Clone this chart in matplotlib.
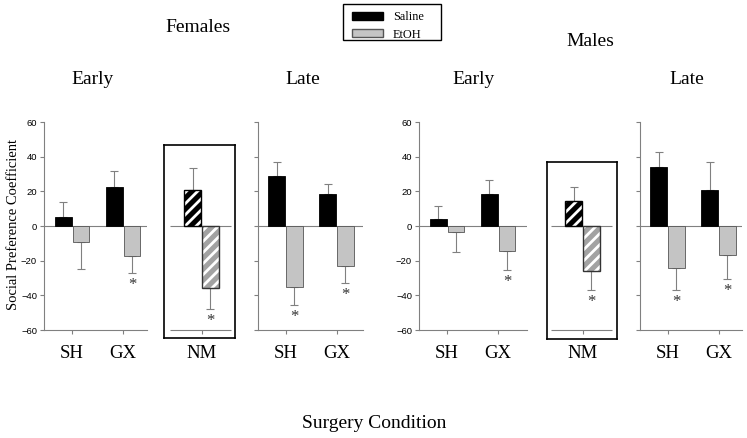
import matplotlib
matplotlib.use("Agg")
import matplotlib.pyplot as plt
from matplotlib.patches import Patch, Rectangle

plt.rcParams['font.family'] = 'Liberation Serif'
plt.rcParams['hatch.linewidth'] = 2.0

# data (mean, error bar length)
groups = ['SH', 'GX']

fem_early_sal = [5, 22.7]
fem_early_sal_err = [9, 9.3]
fem_early_eto = [-9.5, -17.3]
fem_early_eto_err = [15.4, 9.9]
fem_early_star = [False, True]

fem_nm_sal, fem_nm_sal_err = 20.8, 12.5
fem_nm_eto, fem_nm_eto_err = -35.8, 12.0

fem_late_sal = [28.9, 18.3]
fem_late_sal_err = [8.1, 6.0]
fem_late_eto = [-35.1, -23.0]
fem_late_eto_err = [10.6, 10.0]
fem_late_star = [True, True]

male_early_sal = [4, 18.5]
male_early_sal_err = [7.6, 8.1]
male_early_eto = [-3.7, -14.7]
male_early_eto_err = [11.3, 10.6]
male_early_star = [False, True]

male_nm_sal, male_nm_sal_err = 14.2, 8.1
male_nm_eto, male_nm_eto_err = -25.9, 11.0

male_late_sal = [33.9, 20.9]
male_late_sal_err = [9.0, 16.3]
male_late_eto = [-24.5, -16.9]
male_late_eto_err = [12.7, 13.4]
male_late_star = [True, True]

W, H = 747, 438
SAL = 'black'
ETO = '#c4c4c4'
ETO_NM = '#a2a2a2'
GREY = '#808080'
PX = 51.0   # pixels per category unit
BW = 0.33

fig = plt.figure(figsize=(W / 100, H / 100), dpi=100)


def px_axes(left, right, top, bottom):
    return fig.add_axes([left / W, 1 - bottom / H, (right - left) / W, (bottom - top) / H])


def errbars(ax, x, vals, errs):
    for xi, v, e in zip(x, vals, errs):
        yerr = [[0], [e]] if v >= 0 else [[e], [0]]
        ax.errorbar([xi], [v], yerr=yerr, fmt='none', ecolor=GREY, elinewidth=0.8,
                    capsize=3, capthick=0.8, zorder=1)


def stars(ax, x, vals, errs, flags):
    for xi, v, e, f in zip(x, vals, errs, flags):
        if f:
            ax.annotate('*', xy=(xi, v - e), xytext=(0, -12), textcoords='offset pixels',
                        ha='center', va='center', fontsize=12, color='#333333')


def panel(left, right, sal, sal_err, eto, eto_err, flags, labels_on):
    ax = px_axes(left, right, 122, 330)
    xmin = -0.55
    ax.set_xlim(xmin, xmin + (right - left) / PX)
    ax.set_ylim(-60, 60)
    x = list(range(len(groups)))
    xs = [i - 0.175 for i in x]
    xe = [i + 0.175 for i in x]
    ax.bar(xs, sal, BW, color=SAL, edgecolor='black', linewidth=0.6, zorder=2)
    ax.bar(xe, eto, BW, color=ETO, edgecolor='#555555', linewidth=0.6, zorder=2)
    errbars(ax, xs, sal, sal_err)
    errbars(ax, xe, eto, eto_err)
    stars(ax, xe, eto, eto_err, flags)
    ax.axhline(0, color=GREY, lw=0.8, zorder=0.5)
    for s in ['top', 'right']:
        ax.spines[s].set_visible(False)
    for s in ['left', 'bottom']:
        ax.spines[s].set_color(GREY)
        ax.spines[s].set_linewidth(0.8)
    ax.set_yticks(range(-60, 61, 20))
    ax.set_xticks(x)
    ax.set_xticklabels(groups, fontsize=13.5)
    ax.tick_params(axis='both', direction='out', length=3, width=0.8, color=GREY)
    ax.tick_params(axis='x', pad=8)
    ax.tick_params(axis='y', labelsize=6.8, labelleft=labels_on, pad=2)
    for t in ax.get_yticklabels():
        t.set_family('Liberation Sans')
    ax.patch.set_visible(False)
    return ax


def nm_panel(left, right, top, bottom, center, sal, sal_err, eto, eto_err):
    k = 208 / 120.0
    y0 = 226.0
    ax = px_axes(left, right, top, bottom)
    ax.set_xlim((left - center) / PX, (right - center) / PX)
    ax.set_ylim(-(bottom - y0) / k, (y0 - top) / k)
    ax.set_xticks([])
    ax.set_yticks([])
    for s in ax.spines.values():
        s.set_linewidth(1.2)
        s.set_color('black')
    xs, xe = -0.175, 0.175
    ax.bar([xs], [sal], BW, color=SAL, edgecolor='white', hatch='///', linewidth=0, zorder=2)
    ax.bar([xs], [sal], BW, fill=False, edgecolor='black', linewidth=1.0, zorder=2.1)
    ax.bar([xe], [eto], BW, color=ETO_NM, edgecolor='white', hatch='///', linewidth=0, zorder=2)
    ax.bar([xe], [eto], BW, fill=False, edgecolor='#333333', linewidth=1.0, zorder=2.1)
    errbars(ax, [xs], [sal], [sal_err])
    errbars(ax, [xe], [eto], [eto_err])
    stars(ax, [xe], [eto], [eto_err], [True])
    ax.hlines([0, -60], -0.61, 0.58, color=GREY, lw=0.8, zorder=0.5)
    ax.plot([0], [-60], marker=3, color=GREY, markersize=3, mew=0.8)
    ax.annotate('NM', xy=(0, -60), xytext=(0, -24), textcoords='offset pixels',
                ha='center', va='center', fontsize=13.5)
    return ax


panel(44, 147, fem_early_sal, fem_early_sal_err, fem_early_eto, fem_early_eto_err,
      fem_early_star, True)
nm_panel(164, 235, 145, 338, 201.5, fem_nm_sal, fem_nm_sal_err, fem_nm_eto, fem_nm_eto_err)
panel(257.5, 363, fem_late_sal, fem_late_sal_err, fem_late_eto, fem_late_eto_err,
      fem_late_star, False)
panel(419, 527, male_early_sal, male_early_sal_err, male_early_eto, male_early_eto_err,
      male_early_star, True)
nm_panel(547, 617, 162, 339, 582.5, male_nm_sal, male_nm_sal_err, male_nm_eto, male_nm_eto_err)
panel(639.5, 742, male_late_sal, male_late_sal_err, male_late_eto, male_late_eto_err,
      male_late_star, False)

# titles
def ftext(x, y, s, **kw):
    fig.text(x / W, 1 - y / H, s, ha='center', va='center', **kw)


ftext(198, 28, 'Females', fontsize=14)
ftext(590, 42, 'Males', fontsize=14)
ftext(93, 79, 'Early', fontsize=14)
ftext(303, 79, 'Late', fontsize=14)
ftext(474, 79, 'Early', fontsize=14)
ftext(687, 79, 'Late', fontsize=14)
ftext(374, 423, 'Surgery Condition', fontsize=14)
ftext(14, 225, 'Social Preference Coefficient', fontsize=10.5, rotation=90)

# legend, with its own frame
fig.patches.append(Rectangle((343 / W, 1 - 40 / H), 98 / W, 36 / H, transform=fig.transFigure,
                             fill=False, edgecolor='black', linewidth=1.0))
handles = [Patch(facecolor=SAL, edgecolor='black'),
           Patch(facecolor=ETO, edgecolor='#555555')]
fig.legend(handles, ['Saline', 'EtOH'], loc='upper left',
           bbox_to_anchor=(352 / W, 1 - 11 / H), fontsize=8.8, frameon=False,
           borderaxespad=0, borderpad=0,
           handlelength=2.55, handleheight=0.6, handletextpad=0.8,
           labelspacing=0.45)

fig.savefig('out.png', dpi=100)
